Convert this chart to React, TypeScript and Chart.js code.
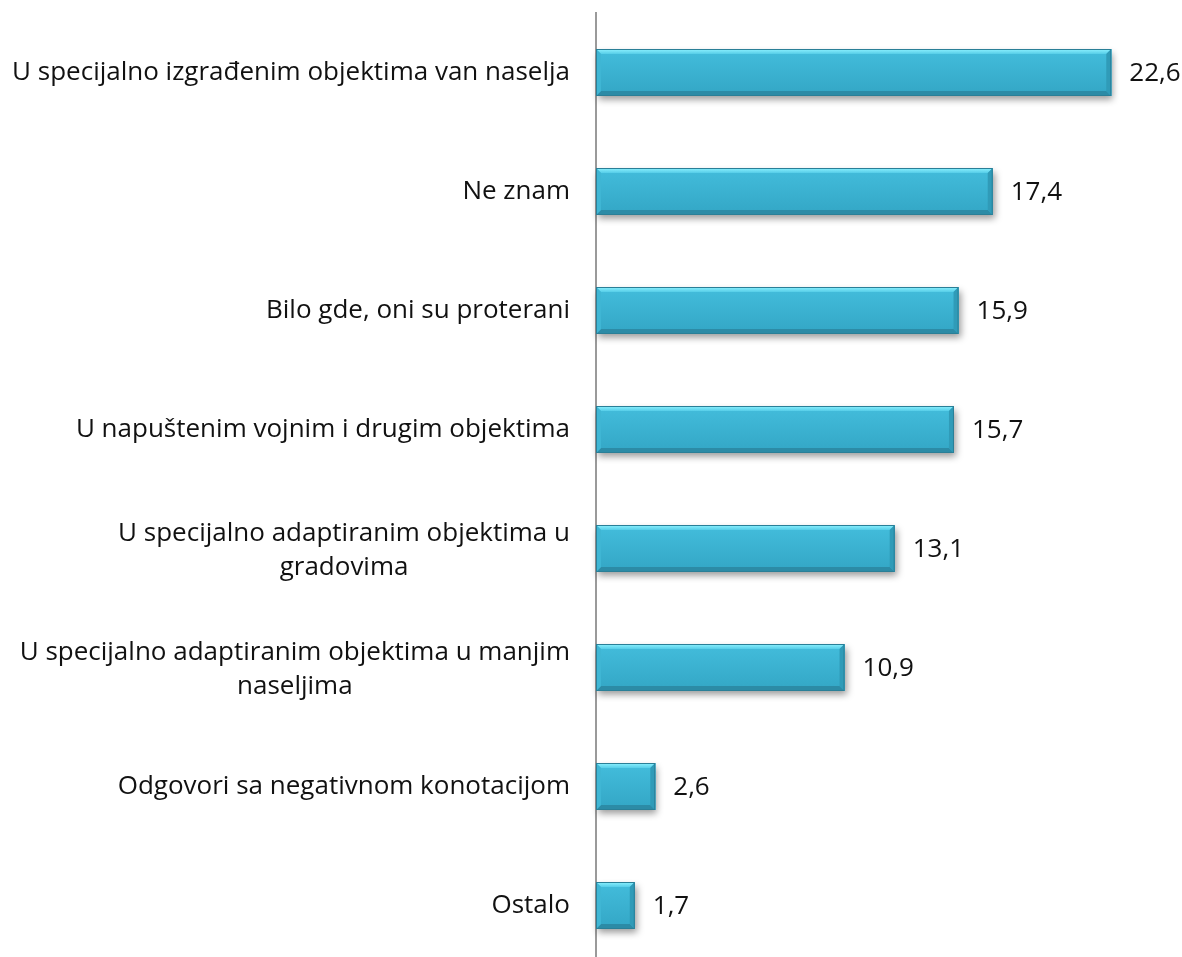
import React, { useEffect, useRef } from "react";
import { Chart, registerables } from "chart.js";

Chart.register(...registerables);

const categories: string[][] = [
  ["U specijalno izgrađenim objektima van naselja"],
  ["Ne znam"],
  ["Bilo gde, oni su proterani"],
  ["U napuštenim vojnim i drugim objektima"],
  ["U specijalno adaptiranim objektima u", "gradovima"],
  ["U specijalno adaptiranim objektima u manjim", "naseljima"],
  ["Odgovori sa negativnom konotacijom"],
  ["Ostalo"],
];
const values: number[] = [22.6, 17.4, 15.9, 15.7, 13.1, 10.9, 2.6, 1.7];

const FONT_FAMILY = "'Open Sans', sans-serif";
const LABEL_SIZE = 26;
const LABEL_RIGHT = 570;
const LINE_HEIGHT = 34;

const barDecor = {
  id: "barDecor",
  beforeDatasetsDraw(chart: any) {
    const ctx = chart.ctx;
    const meta = chart.getDatasetMeta(0);
    meta.data.forEach((el: any) => {
      const { x, y, base, height } = el.getProps(["x", "y", "base", "height"], true);
      ctx.save();
      ctx.shadowColor = "rgba(0,0,0,0.4)";
      ctx.shadowBlur = 7;
      ctx.shadowOffsetX = 2;
      ctx.shadowOffsetY = 4;
      ctx.fillStyle = "#3ab3d3";
      ctx.fillRect(base, y - height / 2, x - base, height);
      ctx.restore();
    });
  },
  afterDatasetsDraw(chart: any) {
    const ctx = chart.ctx;
    const meta = chart.getDatasetMeta(0);
    meta.data.forEach((el: any, i: number) => {
      const { x, y, base, height } = el.getProps(["x", "y", "base", "height"], true);
      const L = base, R = x, T = y - height / 2, B = y + height / 2;
      const b = 5;
      ctx.save();
      const g = ctx.createLinearGradient(0, T, 0, B);
      g.addColorStop(0, "#43bddc");
      g.addColorStop(1, "#33a6c5");
      ctx.fillStyle = g;
      ctx.fillRect(L, T, R - L, B - T);
      const poly = (pts: number[][], fill: any) => {
        ctx.beginPath();
        ctx.moveTo(pts[0][0], pts[0][1]);
        for (let k = 1; k < pts.length; k++) ctx.lineTo(pts[k][0], pts[k][1]);
        ctx.closePath();
        ctx.fillStyle = fill;
        ctx.fill();
      };
      const gt = ctx.createLinearGradient(0, T, 0, T + b);
      gt.addColorStop(0, "#8ef2ff");
      gt.addColorStop(1, "#55cde8");
      poly([[L, T], [R, T], [R - b, T + b], [L + b, T + b]], gt);
      poly([[L, B], [R, B], [R - b, B - b], [L + b, B - b]], "#2c8ba6");
      poly([[L, T], [L + b, T + b], [L + b, B - b], [L, B]], "#3fb6d4");
      poly([[R, T], [R - b, T + b], [R - b, B - b], [R, B]], "#309bb8");
      ctx.strokeStyle = "#2a7f97";
      ctx.lineWidth = 1;
      ctx.strokeRect(L + 0.5, T + 0.5, R - L - 1, B - T - 1);
      ctx.restore();

      // value label
      ctx.save();
      ctx.font = `${LABEL_SIZE}px ${FONT_FAMILY}`;
      ctx.fillStyle = "#111";
      ctx.textAlign = "left";
      ctx.textBaseline = "middle";
      ctx.fillText(values[i].toFixed(1).replace(".", ","), R + 18, y + 1);
      ctx.restore();
    });

    // category labels
    const yScale = chart.scales.y;
    ctx.save();
    ctx.font = `${LABEL_SIZE}px ${FONT_FAMILY}`;
    ctx.fillStyle = "#111";
    ctx.textBaseline = "middle";
    categories.forEach((lines, i) => {
      const cy = yScale.getPixelForValue(i);
      const widths = lines.map((l) => ctx.measureText(l).width);
      const bw = Math.max(...widths);
      const cx = LABEL_RIGHT - bw / 2;
      const multi = lines.length > 1;
      const startY = cy - ((lines.length - 1) * LINE_HEIGHT) / 2 + (multi ? 2 : 0);
      lines.forEach((l, k) => {
        ctx.textAlign = multi ? "center" : "right";
        ctx.fillText(l, multi ? cx : LABEL_RIGHT, startY + k * LINE_HEIGHT);
      });
    });
    ctx.restore();
  },
};

export default function App() {
  const ref = useRef<HTMLCanvasElement>(null);
  useEffect(() => {
    if (!ref.current) return;
    const chart = new Chart(ref.current, {
      type: "bar",
      data: {
        labels: categories.map((c) => c.join(" ")),
        datasets: [
          {
            data: values,
            backgroundColor: "#3ab3d3",
            borderWidth: 0,
            barPercentage: 0.395,
            categoryPercentage: 1,
          },
        ],
      },
      options: {
        indexAxis: "y",
        responsive: false,
        animation: false,
        events: [],
        layout: { padding: { top: 13, bottom: 1, right: 16, left: 0 } },
        plugins: { legend: { display: false }, tooltip: { enabled: false } },
        scales: {
          x: { display: false, min: 0, max: 25 },
          y: {
            ticks: { display: false },
            grid: { display: false },
            border: { display: true, color: "#9a9a9a", width: 2 },
            afterFit: (s: any) => {
              s.width = 596;
            },
          },
        },
      },
      plugins: [barDecor],
    });
    return () => chart.destroy();
  }, []);
  return (
    <div
      style={{
        position: "fixed",
        left: 0,
        top: 0,
        width: 1182,
        height: 957,
        overflow: "hidden",
        background: "#fff",
      }}
    >
      <canvas ref={ref} width={1182} height={966} style={{ display: "block" }} />
    </div>
  );
}
